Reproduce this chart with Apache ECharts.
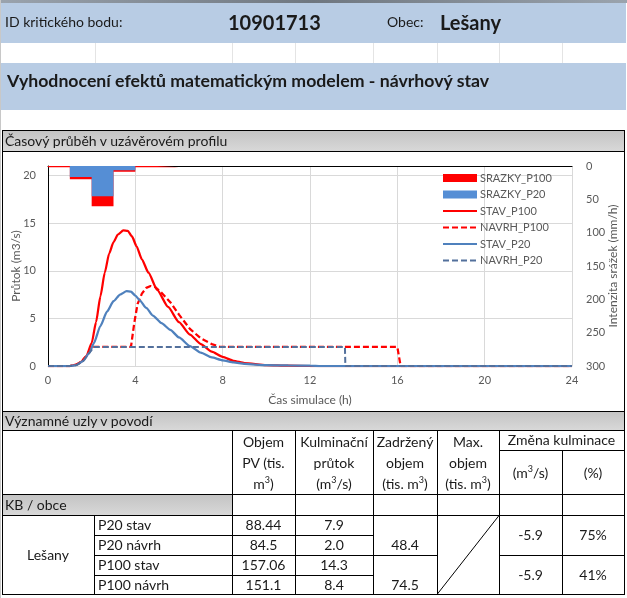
<!DOCTYPE html>
<html><head><meta charset="utf-8">
<script src="https://cdn.jsdelivr.net/npm/echarts@6/dist/echarts.min.js"></script>
<style>
html,body{margin:0;padding:0;width:627px;height:598px;overflow:hidden;background:#fff;font-family:Lato,'Noto Sans',sans-serif;color:#1a1a1a;}
.a{position:absolute;white-space:nowrap;}
.c{position:absolute;display:flex;align-items:center;justify-content:center;text-align:center;white-space:nowrap;}
.s{font-size:9px;vertical-align:6px;line-height:0;}
</style></head><body>
<div id="bg"></div>
<div id="chart" style="position:absolute;left:3px;top:152px;width:621px;height:259px;"></div>
<svg id="lines" width="627" height="598" style="position:absolute;left:0;top:0;pointer-events:none"></svg>
<div id="txt"></div>
<script>
// ---------------- data ----------------
const pointId = '10901713';
const obec = 'Lešany';
const rainHours = [0, 1, 2, 3, 4, 5, 6];
const rainP100 = [2, 20, 60.5, 8.5, 2, 2, 0];
const rainP20 = [0, 16.5, 45.5, 6.5, 0, 0, 0];

const tStavP100 = [0, 1.0, 1.3, 1.5, 1.75, 2.0, 2.2, 2.4, 2.6, 2.8, 3.0, 3.2, 3.45, 3.65, 3.85, 4.05, 4.3, 4.6, 5.0, 5.5, 6.0, 6.5, 7.0, 7.5, 8.0, 8.5, 9.0, 10, 11, 12, 24];
const qStavP100 = [0, 0, 0.15, 0.4, 1.0, 2.4, 4.6, 7.3, 9.8, 11.8, 13.0, 13.8, 14.25, 14.2, 13.6, 12.6, 11.2, 9.8, 8.0, 6.2, 4.6, 3.3, 2.3, 1.5, 0.95, 0.55, 0.3, 0.1, 0.03, 0, 0];

const tNavrhP100 = [0, 1.0, 1.3, 1.5, 1.75, 2.0, 3.8, 3.95, 4.1, 4.3, 4.5, 4.7, 4.9, 5.2, 5.6, 6.0, 6.5, 7.0, 7.5, 7.9, 16.0, 16.15, 24];
const qNavrhP100 = [0, 0, 0.15, 0.4, 1.0, 2.0, 2.0, 4.5, 6.5, 7.6, 8.2, 8.4, 8.3, 7.7, 6.7, 5.4, 3.9, 2.9, 2.3, 2.0, 2.0, 0, 0];

const tStavP20 = [0, 1.0, 1.3, 1.6, 1.9, 2.1, 2.4, 2.7, 3.0, 3.3, 3.6, 3.8, 4.0, 4.2, 4.5, 4.8, 5.2, 5.6, 6.0, 6.5, 7.0, 7.5, 8.0, 8.5, 9.0, 10, 11, 12, 12.5, 24];
const qStavP20 = [0, 0, 0.1, 0.5, 1.4, 2.4, 4.2, 5.7, 6.8, 7.5, 7.85, 7.8, 7.4, 6.9, 6.1, 5.3, 4.5, 3.8, 3.0, 2.1, 1.4, 0.9, 0.6, 0.38, 0.22, 0.09, 0.06, 0.04, 0, 0];

const tNavrhP20 = [0, 1.0, 1.3, 1.6, 1.9, 2.1, 13.6, 13.62, 24];
const qNavrhP20 = [0, 0, 0.1, 0.5, 1.4, 2.0, 2.0, 0, 0];

const xTicks = [0, 4, 8, 12, 16, 20, 24];
const rowLabels = ['P20 stav', 'P20 návrh', 'P100 stav', 'P100 návrh'];
const objemPV = ['88.44', '84.5', '157.06', '151.1'];
const kulmPrutok = ['7.9', '2.0', '14.3', '8.4'];
const zadrzeny = ['48.4', '74.5'];
const zmenaM3s = ['-5.9', '-5.9'];
const zmenaPct = ['75%', '41%'];

// ---------------- sheet layout ----------------
const BLUE = '#B8CCE4';
const GRAY = 'linear-gradient(to bottom,#c4c4c4,#d8d8d8)';
const bg = document.getElementById('bg');
function box(x, y, w, h, background) {
  const d = document.createElement('div');
  d.style.cssText = `position:absolute;left:${x}px;top:${y}px;width:${w}px;height:${h}px;background:${background};`;
  bg.appendChild(d);
}
box(0, 0, 627, 3, 'linear-gradient(to right,#9aa3ad,#6f7780,#9aa3ad)');
box(0, 3, 626, 40, BLUE);
box(0, 63, 626, 47, BLUE);
box(3, 131, 621, 20, GRAY);
box(3, 412, 621, 18, GRAY);
box(3, 495, 229, 20, GRAY);

const txt = document.getElementById('txt');
function put(x, y, w, h, html, css, cls) {
  const d = document.createElement('div');
  d.className = cls || 'a';
  d.style.cssText = `left:${x}px;top:${y}px;width:${w}px;height:${h}px;line-height:${h}px;` + (css || '');
  d.innerHTML = cls === 'c' ? `<div>${html}</div>` : html;
  txt.appendChild(d);
}
put(5, 12, 140, 20, 'ID kritického bodu:', 'font-size:14px;');
put(228, 10, 100, 24, pointId, 'font-size:20px;font-weight:bold;');
put(387, 12, 50, 20, 'Obec:', 'font-size:14px;');
put(440, 10, 100, 24, obec, 'font-size:20px;font-weight:bold;');
put(7, 70, 580, 22, 'Vyhodnocení efektů matematickým modelem - návrhový stav', 'font-size:17.7px;font-weight:bold;');
put(5, 131, 400, 19, 'Časový průběh v uzávěrovém profilu', 'font-size:14px;');
put(5, 411, 400, 19, 'Významné uzly v povodí', 'font-size:14px;');
put(5, 495, 200, 20, 'KB / obce', 'font-size:14px;');

const hdr = 'font-size:14px;line-height:21px;';
const m3 = 'm<span class="s">3</span>';
put(232, 431, 63, 63, `Objem<br>PV (tis.<br>${m3})`, hdr, 'c');
put(295, 431, 78, 63, `Kulminační<br>průtok<br>(${m3}/s)`, hdr, 'c');
put(373, 431, 64, 63, `Zadržený<br>objem<br>(tis. ${m3})`, hdr, 'c');
put(437, 431, 62, 63, `Max.<br>objem<br>(tis. ${m3})`, hdr, 'c');
put(499, 430, 125, 20, 'Změna kulminace', 'font-size:14px;', 'c');
put(499, 451, 63, 43, `(${m3}/s)`, 'font-size:14px;', 'c');
put(562, 451, 62, 43, '(%)', 'font-size:14px;', 'c');

const rowY = [515, 535, 555, 575];
put(2, 515, 92, 80, obec, 'font-size:14px;', 'c');
rowLabels.forEach((s, i) => put(98, rowY[i], 134, 20, s, 'font-size:14px;'));
objemPV.forEach((s, i) => put(232, rowY[i], 63, 20, s, 'font-size:14px;', 'c'));
kulmPrutok.forEach((s, i) => put(295, rowY[i], 78, 20, s, 'font-size:14px;', 'c'));
zadrzeny.forEach((s, i) => put(373, 515 + 40 * i + 20, 64, 20, s, 'font-size:14px;', 'c'));
zmenaM3s.forEach((s, i) => put(499, 515 + 40 * i, 63, 40, s, 'font-size:14px;', 'c'));
zmenaPct.forEach((s, i) => put(562, 515 + 40 * i, 62, 40, s, 'font-size:14px;', 'c'));

// grid lines of the sheet
const svg = document.getElementById('lines');
let lines = '';
function L(x1, y1, x2, y2, c, w) {
  lines += `<line x1="${x1}" y1="${y1}" x2="${x2}" y2="${y2}" stroke="${c || '#000'}" stroke-width="${w || 1}" shape-rendering="crispEdges"/>`;
}
[95, 232, 295, 373, 437, 499, 562].forEach(x => L(x + 0.5, 43, x + 0.5, 63, '#e4e4e4'));
L(0.5, 0, 0.5, 598, '#c8c8c8');
L(2, 130.5, 625, 130.5); L(2, 151.5, 625, 151.5); L(2, 411.5, 625, 411.5);
L(2, 430.5, 625, 430.5); L(499, 450.5, 625, 450.5); L(2, 494.5, 625, 494.5);
L(2, 515.5, 625, 515.5); L(2, 594.5, 625, 594.5);
[535, 575].forEach(y => L(94, y + 0.5, 373, y + 0.5));
L(94, 555.5, 437, 555.5); L(499, 555.5, 625, 555.5);
L(2.5, 130, 2.5, 595); L(624.5, 130, 624.5, 595);
L(94.5, 515, 94.5, 595);
[232, 295, 373, 437, 499].forEach(x => L(x + 0.5, 430, x + 0.5, 595));
L(562.5, 450, 562.5, 595);
lines += '<line x1="437" y1="594.5" x2="499" y2="515.5" stroke="#000" stroke-width="1"/>';
svg.innerHTML = lines;

// ---------------- chart ----------------
const FONT = 'Lato';
const lab = { color: '#595959', fontFamily: FONT, fontSize: 11 };
const pairs = (t, q) => t.map((v, i) => [v, q[i]]);
const RED = '#FF0000', BLUE_L = '#4F81BD', BLUE_D = '#53709C', BLUE_F = '#558ED5';
const noSym = { opacity: 0 };

const chart = echarts.init(document.getElementById('chart'), null, { renderer: 'canvas' });
chart.setOption({
  animation: false,
  grid: { left: 45, right: 52, top: 14, bottom: 45, containLabel: false, outerBoundsMode: 'none' },
  legend: {
    orient: 'vertical', left: 434, top: 14, itemWidth: 34, itemHeight: 8, itemGap: 2.5,
    textStyle: { color: '#595959', fontFamily: FONT, fontSize: 11, lineHeight: 14, padding: [0, 0, 0, -2] },
    data: [{ name: 'SRAZKY_P100', icon: 'rect' }, { name: 'SRAZKY_P20', icon: 'rect' },
      { name: 'STAV_P100', itemStyle: noSym }, { name: 'NAVRH_P100', itemStyle: noSym },
      { name: 'STAV_P20', itemStyle: noSym }, { name: 'NAVRH_P20', itemStyle: noSym }]
  },
  xAxis: [{
    type: 'value', min: xTicks[0], max: xTicks[xTicks.length - 1], interval: 4,
    name: 'Čas simulace (h)', nameLocation: 'middle', nameGap: 28,
    nameTextStyle: { color: '#595959', fontFamily: FONT, fontSize: 12 },
    axisLine: { show: true, onZero: false, lineStyle: { color: '#D9D9D9' } },
    axisTick: { show: false }, axisLabel: Object.assign({ margin: 9 }, lab),
    splitLine: { lineStyle: { color: '#D9D9D9' } }
  }, {
    type: 'value', position: 'top', min: 0, max: 24,
    axisLine: { show: true, onZero: false, lineStyle: { color: '#000' } },
    axisTick: { show: false }, axisLabel: { show: false }, splitLine: { show: false }
  }],
  yAxis: [{
    type: 'value', min: 0, max: 21, interval: 5,
    name: 'Průtok (m3/s)', nameLocation: 'middle', nameRotate: 90, nameGap: 26, nameMoveOverlap: false,
    nameTextStyle: { color: '#595959', fontFamily: FONT, fontSize: 12 },
    axisLine: { show: true, onZero: false, lineStyle: { color: '#000' } },
    axisTick: { show: false },
    axisLabel: Object.assign({ margin: 12, formatter: v => (v % 5 === 0 ? String(v) : '') }, lab),
    splitLine: { lineStyle: { color: '#D9D9D9' } }
  }, {
    type: 'value', position: 'right', inverse: true, min: 0, max: 300, interval: 50,
    name: 'Intenzita srážek (mm/h)', nameLocation: 'middle', nameRotate: 90, nameGap: 35, nameMoveOverlap: false,
    nameTextStyle: { color: '#595959', fontFamily: FONT, fontSize: 12 },
    axisLine: { show: false }, axisTick: { show: false },
    axisLabel: Object.assign({ margin: 14 }, lab), splitLine: { show: false }
  }],
  series: [
    { name: 'SRAZKY_P100', type: 'line', yAxisIndex: 1, step: 'end', symbol: 'none', color: RED,
      lineStyle: { width: 0 }, areaStyle: { color: RED, opacity: 1 }, data: pairs(rainHours, rainP100) },
    { name: 'SRAZKY_P20', type: 'line', yAxisIndex: 1, step: 'end', symbol: 'none', color: BLUE_F,
      lineStyle: { width: 0 }, areaStyle: { color: BLUE_F, opacity: 1 }, data: pairs(rainHours, rainP20) },
    { name: 'STAV_P100', type: 'line', symbol: 'none', color: RED, smooth: 0.2, smoothMonotone: 'x',
      lineStyle: { width: 2.25, color: RED }, data: pairs(tStavP100, qStavP100) },
    { name: 'NAVRH_P100', type: 'line', symbol: 'none', color: RED,
      lineStyle: { width: 2.25, color: RED, type: [6, 3] }, data: pairs(tNavrhP100, qNavrhP100) },
    { name: 'STAV_P20', type: 'line', symbol: 'none', color: BLUE_L, smooth: 0.2, smoothMonotone: 'x',
      lineStyle: { width: 2.25, color: BLUE_L }, data: pairs(tStavP20, qStavP20) },
    { name: 'NAVRH_P20', type: 'line', symbol: 'none', color: BLUE_D,
      lineStyle: { width: 2, color: BLUE_D, type: [6, 3] }, data: pairs(tNavrhP20, qNavrhP20) }
  ]
});
</script>
</body></html>
